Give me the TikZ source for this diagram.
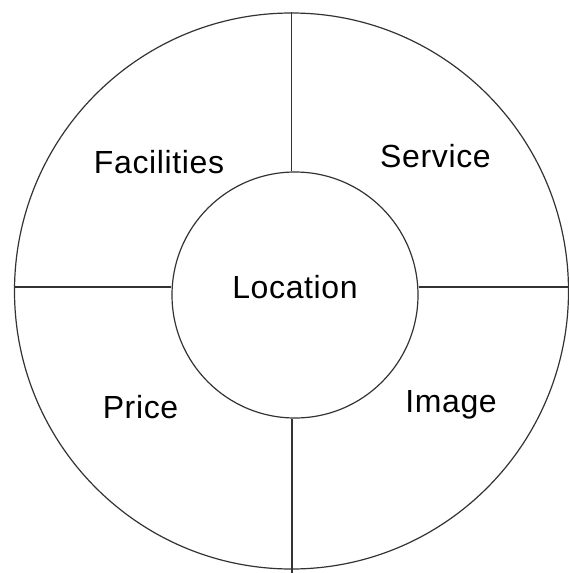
\documentclass[tikz,border=0pt]{standalone}
\usepackage{fontspec}
\setmainfont{Liberation Sans}[LetterSpace=2]
\usetikzlibrary{shapes.geometric}
\begin{document}
\begin{tikzpicture}[x=1pt,y=-1pt,
  ring/.style={draw=black!80, line width=1.2pt, inner sep=0pt},
  divider/.style={draw=black!80, line width=1.2pt},
  lbl/.style={anchor=base, font=\fontsize{32}{38}\selectfont, text=black, inner sep=0pt}]
\useasboundingbox[fill=white] (0,0) rectangle (569,573);
\node[ring, ellipse, minimum width=554pt, minimum height=556pt] (outer) at (291.5,291) {};
\node[ring, circle, minimum size=246pt] (inner) at (295,295) {};
\coordinate (hy) at (0,287);
\coordinate (rightend) at (569,287);
\coordinate (bottomend) at (292,573);
\draw[divider] (outer.west |- hy) -- (inner.west |- hy);
\draw[divider] (inner.east |- hy) -- (rightend);
\draw[divider] (outer.north) -- (outer.north |- inner.north);
\draw[divider] (bottomend |- inner.south) -- (bottomend);
\node[lbl] (facilities) at (159,173) {Facilities};
\node[lbl] (service) at (435.5,167) {Service};
\node[lbl] (location) at (295,298) {Location};
\node[lbl] (price) at (140.5,418) {Price};
\node[lbl] (image) at (451,412) {Image};
\end{tikzpicture}
\end{document}
